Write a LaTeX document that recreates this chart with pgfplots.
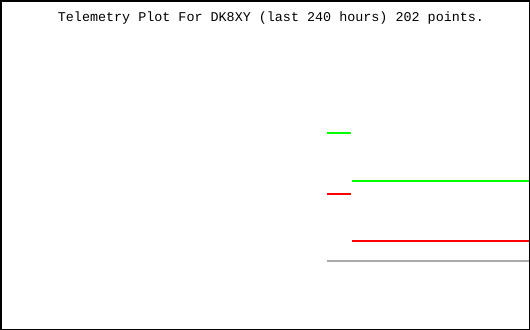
\documentclass[border=0pt]{standalone}
\usepackage{pgfplots}
\pgfplotsset{compat=1.18}
\usepackage{fontspec}
\setmainfont{Liberation Mono}
\definecolor{tgreen}{RGB}{0,255,0}
\definecolor{tred}{RGB}{255,0,0}
\definecolor{tgray}{RGB}{170,170,170}
\begin{document}
\begin{tikzpicture}
\begin{axis}[
  scale only axis,
  width=528.5bp, height=328.5bp,
  xmin=0, xmax=530, ymin=0, ymax=330,
  y dir=reverse,
  axis line style={black, line width=1.5bp},
  xtick=\empty, ytick=\empty,
  title={Telemetry Plot For DK8XY (last 240 hours) 202 points.},
  title style={at={(0.5113,0.918)}, anchor=base, font=\fontsize{13.45}{14}\selectfont, inner sep=0pt},
  clip=true,
]
\addplot[tgreen, line width=2bp] coordinates {(327,132.5) (351,132.5)};
\addplot[tgreen, line width=2bp] coordinates {(352,181.5) (530,181.5)};
\addplot[tred, line width=2bp] coordinates {(327,194.5) (351,194.5)};
\addplot[tred, line width=2bp] coordinates {(352,241.5) (530,241.5)};
\addplot[tgray, line width=2bp] coordinates {(327,261.5) (530,261.5)};
\end{axis}
\end{tikzpicture}
\end{document}
